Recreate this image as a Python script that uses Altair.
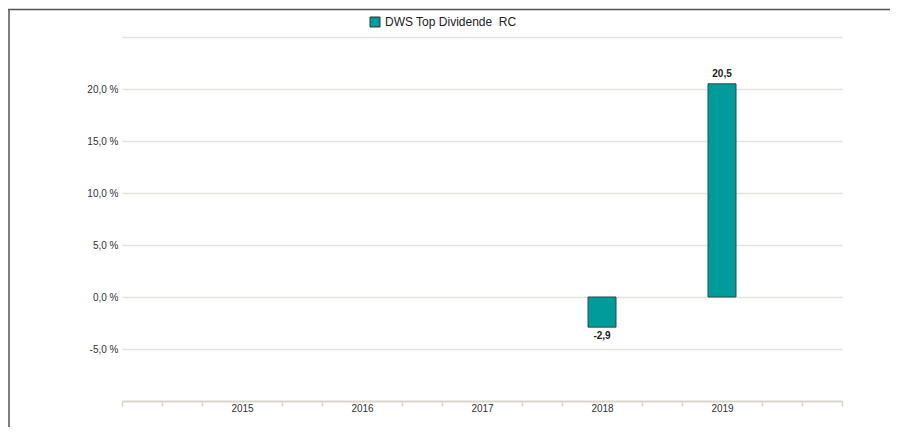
import altair as alt
import pandas as pd

years = [2018, 2019]
values = [-2.9, 20.5]
series_name = "DWS Top Dividende\u00a0 RC"
x_ticks = [2014 + k / 3 for k in range(19)]
y_ticks = [-5, 0, 5, 10, 15, 20, 25]

df = pd.DataFrame({"year": years, "value": values, "series": [series_name] * len(years)})
FONT = "Liberation Sans"

label_expr = "(datum.value < 0 ? '-' : '') + replace(format(abs(datum.value), '.1f'), '.', ',')"

x_enc = alt.X(
    "year:Q",
    scale=alt.Scale(domain=[2014, 2020], nice=False, zero=False, padding=0),
    axis=alt.Axis(
        title=None, grid=False, values=x_ticks, tickCount=60,
        labelExpr="(datum.value % 1 === 0 && datum.value > 2014 && datum.value < 2020) ? '' + datum.value : ''",
        tickOpacity={"condition": {"test": "datum.value % 1 === 0 && datum.value > 2014 && datum.value < 2020", "value": 0}, "value": 1},
        domainColor="#d9d5ca", domainWidth=2, tickColor="#d9d5ca", tickWidth=1.5, tickSize=5,
        labelFont=FONT, labelFontSize=10, labelColor="#333333", labelPadding=-3,
        labelOverlap=False, labelFlush=False,
    ),
)
y_enc = alt.Y(
    "value:Q",
    scale=alt.Scale(domain=[-10, 25], nice=False),
    axis=alt.Axis(
        title=None, values=y_ticks, grid=True, gridColor="#e3e1da", gridWidth=1.5,
        domain=False, ticks=False, labelPadding=4,
        labelExpr="datum.value == 25 ? '' : toString(datum.value) + ',0 %'",
        labelFont=FONT, labelFontSize=10, labelColor="#333333",
    ),
)

bars = alt.Chart(df).mark_bar(size=28, stroke="#2f4b4b", strokeWidth=1).encode(
    x=x_enc, y=y_enc,
    color=alt.Color(
        "series:N",
        scale=alt.Scale(domain=[series_name], range=["#009c9c"]),
        legend=alt.Legend(
            title=None, orient="none", legendX=247, legendY=-21, padding=0,
            symbolType="square", symbolSize=100, symbolStrokeColor="#333333", symbolStrokeWidth=1,
            labelFont=FONT, labelFontSize=12, labelColor="#222222", labelOffset=4,
        ),
    ),
)

txt_pos = alt.Chart(df).transform_filter("datum.value >= 0").transform_calculate(
    lab=label_expr
).mark_text(baseline="bottom", dy=-5, font=FONT, fontSize=10, fontWeight="bold", color="#222222").encode(
    x="year:Q", y="value:Q", text="lab:N"
)
txt_neg = alt.Chart(df).transform_filter("datum.value < 0").transform_calculate(
    lab=label_expr
).mark_text(baseline="top", dy=4, font=FONT, fontSize=10, fontWeight="bold", color="#222222").encode(
    x="year:Q", y="value:Q", text="lab:N"
)

frame_df = pd.DataFrame({"a": [0]})
top_line = alt.Chart(frame_df).mark_rule(color="#555555", strokeWidth=1.5).encode(
    x=alt.value(-114), x2=alt.value(768), y=alt.value(-27.5)
)
left_line = alt.Chart(frame_df).mark_rule(color="#555555", strokeWidth=1.5).encode(
    x=alt.value(-113), y=alt.value(-27.5), y2=alt.value(390)
)

chart = alt.layer(bars, txt_pos, txt_neg, top_line, left_line).properties(
    width=720, height=364,
    autosize=alt.AutoSizeParams(type="none"),
    padding={"left": 114, "top": 29, "right": 48, "bottom": 26},
).configure_view(stroke=None)

chart.save("out.html", embed_options={"renderer": "svg", "actions": False})
